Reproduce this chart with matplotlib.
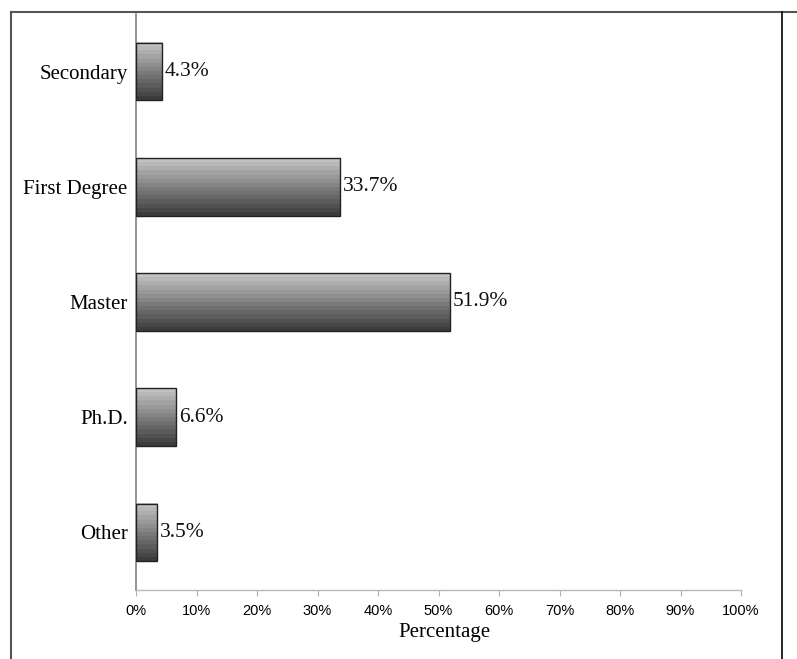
import numpy as np
import matplotlib.pyplot as plt
from matplotlib.lines import Line2D

categories = ["Secondary", "First Degree", "Master", "Ph.D.", "Other"]
values = [4.3, 33.7, 51.9, 6.6, 3.5]
xticks = [0, 10, 20, 30, 40, 50, 60, 70, 80, 90, 100]
xticklabels = [f"{t}%" for t in xticks]

W, H = 797, 659
fig = plt.figure(figsize=(W / 100, H / 100), dpi=100)
ax = fig.add_axes([136 / W, 1 - 590 / H, (741 - 136) / W, (590 - 14) / H])

bar_h = 0.5
pos = np.arange(len(categories))

# banded gray gradient, light at top -> dark at bottom
grad = np.linspace(0.76, 0.24, 14).reshape(-1, 1)
for y, v in zip(pos, values):
    ax.imshow(grad, cmap="gray", vmin=0, vmax=1, aspect="auto",
              extent=(0, v, y + bar_h / 2, y - bar_h / 2), origin="upper",
              interpolation="nearest", zorder=2)
ax.barh(pos, values, height=bar_h, facecolor="none", edgecolor="#222222",
        linewidth=1.0, zorder=3)

for y, v in zip(pos, values):
    ax.text(v + 0.5, y, f"{v}%", va="center", ha="left",
            fontfamily="Liberation Serif", fontsize=15.5, color="#111111")

ax.set_xlim(0, 100)
ax.set_ylim(len(categories) - 0.5, -0.5)
ax.set_yticks(pos)
ax.set_yticklabels(categories, fontfamily="Liberation Serif", fontsize=15)
ax.tick_params(axis="y", length=0, pad=6)
ax.set_xticks(xticks)
ax.set_xticklabels(xticklabels, fontfamily="Liberation Sans", fontsize=10.5)
ax.tick_params(axis="x", length=4, color="#b0b0b0", pad=6)
ax.set_xlabel("Percentage", fontfamily="Liberation Serif", fontsize=15, labelpad=6)
ax.xaxis.set_label_coords(0.51, -0.058)

for s in ["top", "right"]:
    ax.spines[s].set_visible(False)
ax.spines["left"].set_color("#808080")
ax.spines["left"].set_linewidth(1.2)
ax.spines["bottom"].set_color("#b8b8b8")
ax.spines["bottom"].set_linewidth(1.0)

# outer frame lines
fig.add_artist(Line2D([11 / W, 1], [1 - 12 / H, 1 - 12 / H], color="#555555", lw=1.5))
fig.add_artist(Line2D([11 / W, 11 / W], [0, 1 - 12 / H], color="#555555", lw=1.5))
fig.add_artist(Line2D([782 / W, 782 / W], [0, 1 - 12 / H], color="#000000", lw=1.2))

fig.savefig("out.png", dpi=100)
